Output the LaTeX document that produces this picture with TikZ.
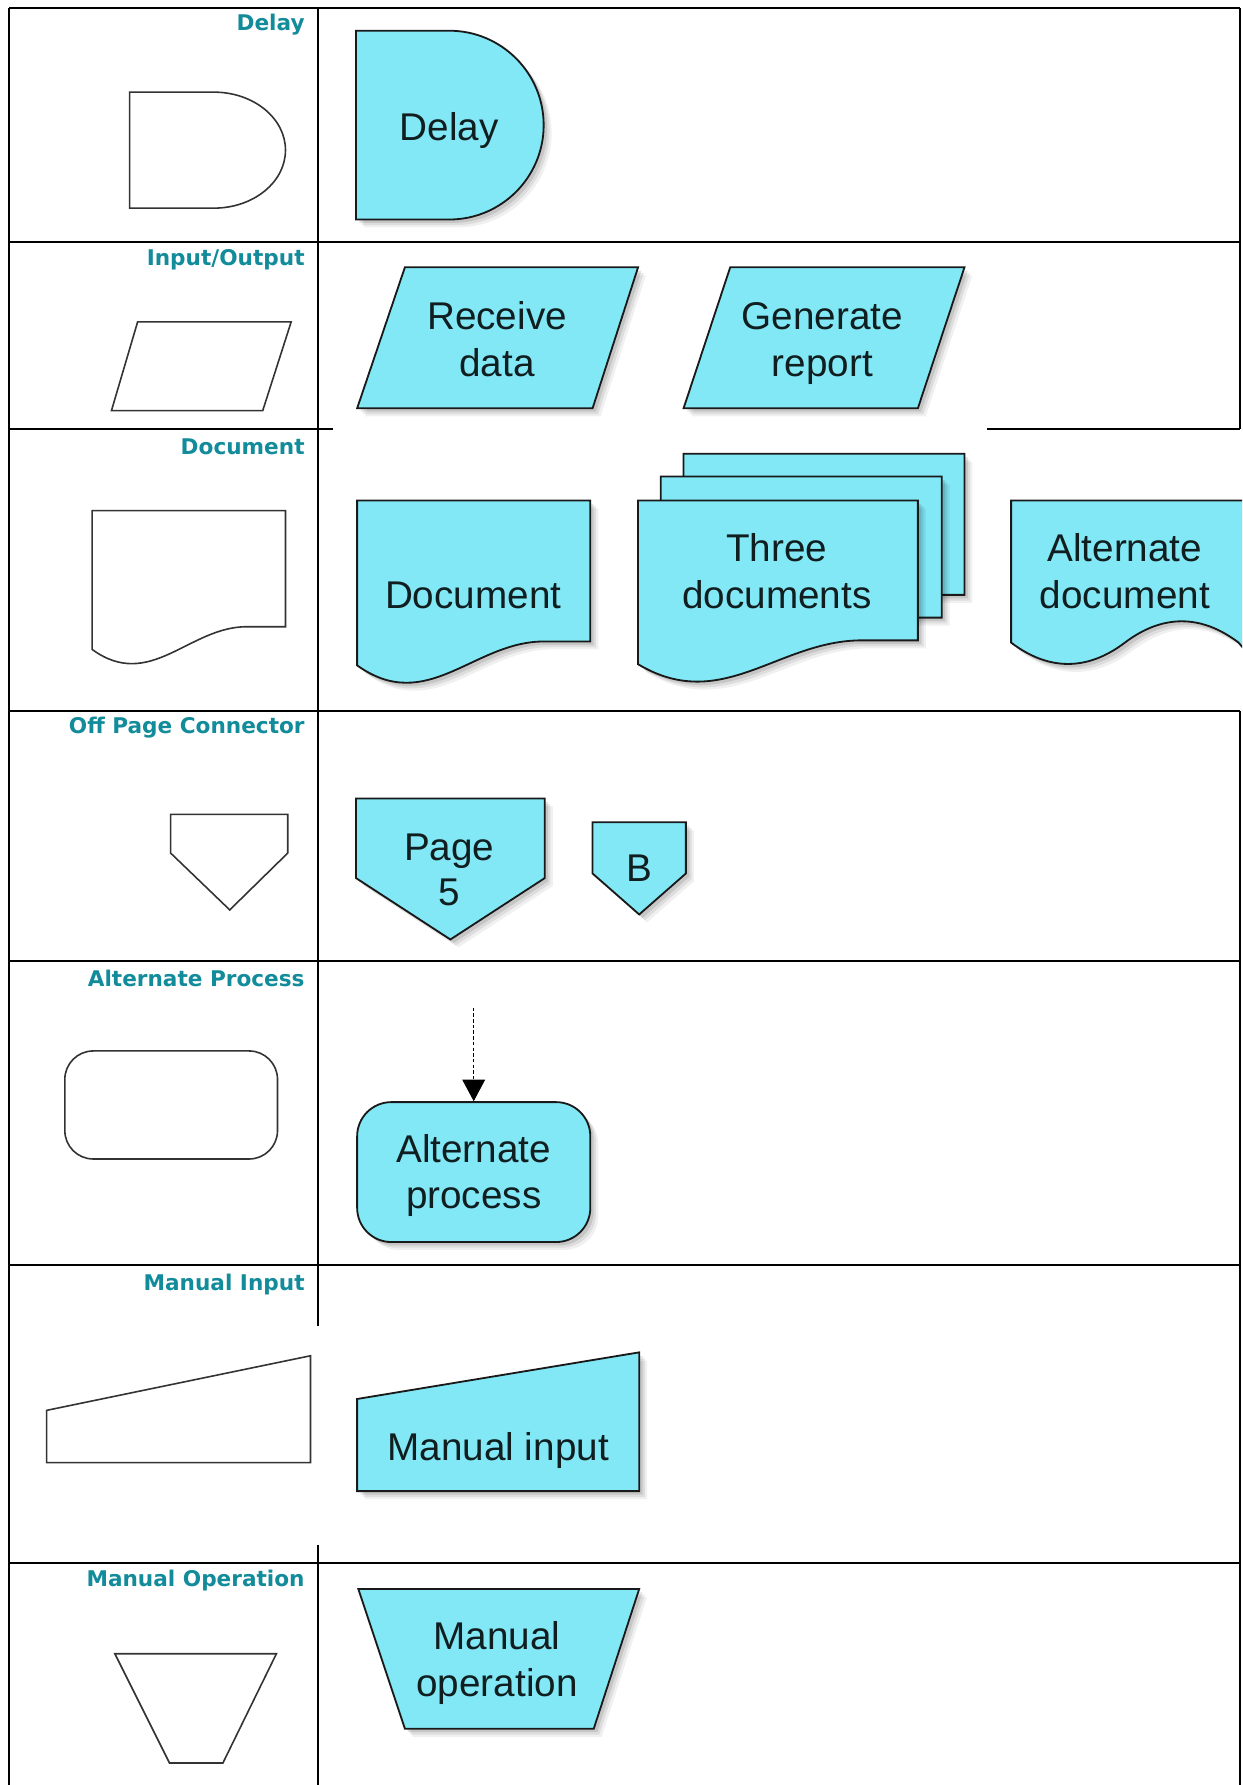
\documentclass[tikz,border=0pt]{standalone}
\usepackage{fontspec}
\setmainfont{Liberation Sans}
\newfontfamily\hdrfont{DejaVu Sans}
\usetikzlibrary{arrows.meta}
\definecolor{cyanfill}{RGB}{130,232,246}
\definecolor{hdrteal}{RGB}{18,139,154}
\definecolor{txtdark}{RGB}{16,30,32}
\tikzset{
  tbl/.style={line width=1.8pt, draw=black},
  outl/.style={line width=1.4pt, draw=black!80, fill=white},
  shadowed/.style={
    preaction={draw=none, fill=black, fill opacity=0.06, transform canvas={shift={(7pt,-7pt)}}},
    preaction={draw=none, fill=black, fill opacity=0.08, transform canvas={shift={(5pt,-5pt)}}},
    preaction={draw=none, fill=black, fill opacity=0.10, transform canvas={shift={(3pt,-3pt)}}}},
  cshape/.style={line width=1.6pt, draw=black!90, fill=cyanfill, shadowed},
  hdr/.style={anchor=east, font=\hdrfont\bfseries\fontsize{19}{23}\selectfont, text=hdrteal, inner sep=0pt},
  lbl/.style={align=center, font=\fontsize{34}{41}\selectfont, text=txtdark, inner sep=0pt},
}
\begin{document}
\begin{tikzpicture}[x=1pt,y=-1pt]
\useasboundingbox (0,0) rectangle (1092,1569.4);
\fill[white] (0,0) rectangle (1092,1569.4);

% table grid
\draw[tbl] (8,7) -- (1090,7);
\draw[tbl] (8,7) -- (8,1572);
\draw[tbl] (280,7) -- (280,1166);
\draw[tbl] (280,1358) -- (280,1572);
\draw[tbl] (1090,7) -- (1090,377);
\draw[tbl] (1090,625) -- (1090,1572);
\draw[tbl] (8,213) -- (1090,213);
\draw[tbl] (8,377) -- (293,377);
\draw[tbl] (868,377) -- (1090,377);
\draw[tbl] (8,625) -- (1090,625);
\draw[tbl] (8,845) -- (1090,845);
\draw[tbl] (8,1112) -- (1090,1112);
\draw[tbl] (8,1374) -- (1090,1374);

% headers
\node[hdr] (h1) at (268,22) {Delay};
\node[hdr] (h2) at (268,228) {Input/Output};
\node[hdr] (h3) at (268,393) {Document};
\node[hdr] (h4) at (268,640) {Off Page Connector};
\node[hdr] (h5) at (268,860) {Alternate Process};
\node[hdr] (h6) at (268,1129) {Manual Input};
\node[hdr] (h7) at (268,1390) {Manual Operation};

% row 1: delay
\draw[outl] (114,81) -- (188,81) arc[start angle=-90,end angle=90,x radius=63,y radius=51] -- (114,183) -- cycle;
\draw[cshape] (313,27) -- (395,27) arc[start angle=-90,end angle=90,radius=83] -- (313,193) -- cycle;
\node[lbl] (tdelay) at (395,115) {\strut Delay};

% row 2: input/output
\draw[outl] (121,283) -- (256,283) -- (231,361) -- (98,361) -- cycle;
\draw[cshape] (356,235) -- (561,235) -- (521,359) -- (314,359) -- cycle;
\node[lbl] (trecv) at (437,302) {\strut Receive\\\strut data};
\draw[cshape] (642,235) -- (848,235) -- (807,359) -- (601,359) -- cycle;
\node[lbl] (tgen) at (723,302) {\strut Generate\\\strut report};

% row 3: document
\draw[outl] (81,449) -- (251,449) -- (251,551) -- (217,551) .. controls (166,551) and (132,608) .. (81,571) -- cycle;
\draw[cshape] (314,440) -- (519,440) -- (519,564) -- (478,564) .. controls (416.5,564) and (375.5,629) .. (314,585) -- cycle;
\node[lbl] (tdoc) at (416,527) {\strut Document};
\draw[cshape] (601,399) -- (848,399) -- (848,523) -- (798.6,523) .. controls (724.5,523) and (675.1,588) .. (601,544) -- cycle;
\draw[cshape] (581,419) -- (828,419) -- (828,543) -- (778.6,543) .. controls (704.5,543) and (655.1,608) .. (581,564) -- cycle;
\draw[cshape] (561,440) -- (807,440) -- (807,563) -- (757.8,563) .. controls (684,563) and (634.8,628) .. (561,584) -- cycle;
\node[lbl] (tthree) at (683,506) {\strut Three\\\strut documents};
\begin{scope}
\clip (0,0) rectangle (1092,1569.4);
\draw[cshape] (889,440) -- (1110,440) -- (1110,590) -- (1089,565) .. controls (1056,540) and (1022,540) .. (989,565) .. controls (956,590) and (922,590) .. (889,565) -- cycle;
\end{scope}
\node[lbl] (talt) at (989,506) {\strut Alternate\\\strut document};

% row 4: off page connector
\draw[outl] (150,716) -- (253,716) -- (253,750) -- (202,800) -- (150,750) -- cycle;
\draw[cshape] (313,702) -- (479,702) -- (479,772) -- (396,826) -- (313,772) -- cycle;
\node[lbl, font=\fontsize{34}{39}\selectfont] (tpage) at (395,768.5) {\strut Page\\\strut 5};
\draw[cshape] (521,723) -- (603,723) -- (603,768) -- (562,804) -- (521,768) -- cycle;
\node[lbl] (tb) at (562,767) {\strut B};

% row 5: alternate process
\draw[outl, rounded corners=25pt] (57,924) rectangle (244,1019);
\node[cshape, rounded corners=30pt, minimum width=205pt, minimum height=123pt] (altp) at (416.5,1030.5) {};
\node[lbl] (taltp) at (416.5,1034) {\strut Alternate\\\strut process};
\coordinate (arrtop) at (416.5,886);
\draw[line width=1pt, dash pattern=on 3pt off 2pt, -{Triangle[width=20pt,length=19pt]}] (arrtop) -- (altp.north);

% row 6: manual input
\draw[outl] (41,1240) -- (273,1192) -- (273,1286) -- (41,1286) -- cycle;
\draw[cshape] (314,1230) -- (562,1189) -- (562,1311) -- (314,1311) -- cycle;
\node[lbl] (tmi) at (438,1276) {\strut Manual input};

% row 7: manual operation
\draw[outl] (101,1454) -- (243,1454) -- (196,1550) -- (149,1550) -- cycle;
\draw[cshape] (315,1397) -- (562,1397) -- (522,1520) -- (356,1520) -- cycle;
\node[lbl] (tmo) at (437,1462.5) {\strut Manual\\\strut operation};
\end{tikzpicture}
\end{document}
